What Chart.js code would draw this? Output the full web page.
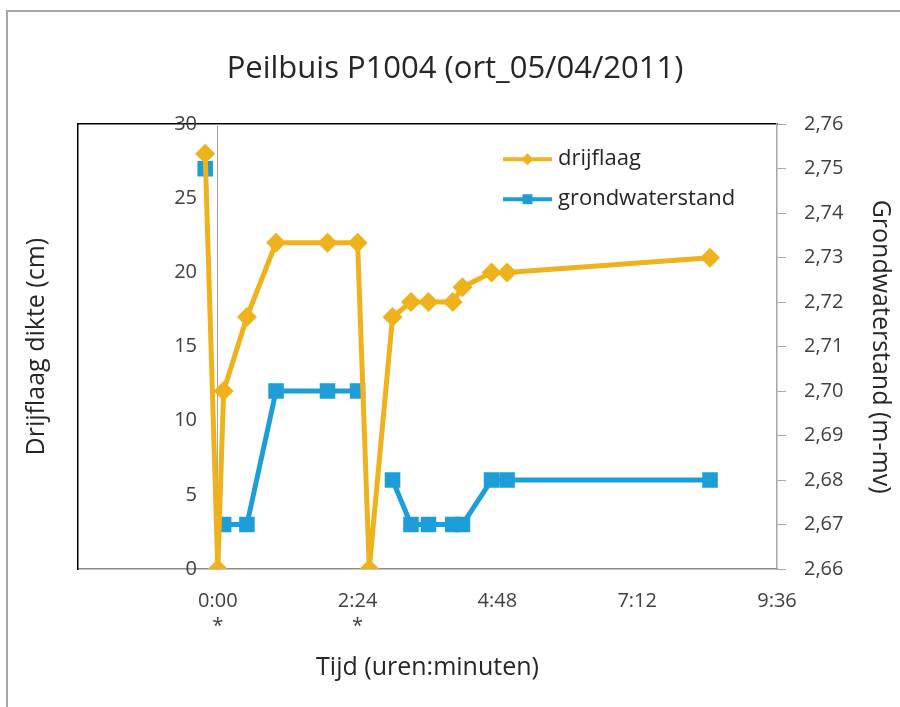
<!DOCTYPE html>
<html>
<head>
<meta charset="utf-8">
<script src="https://cdn.jsdelivr.net/npm/chart.js@4.4.0/dist/chart.umd.min.js"></script>
<style>
  html, body { margin: 0; padding: 0; background: #fff; overflow: hidden; }
  #wrap { position: relative; width: 900px; height: 707px; }
  #frame { position: absolute; left: 6px; top: 10px; width: 900px; height: 700px;
           border-left: 2px solid #a6a6a6; border-top: 2px solid #a6a6a6; pointer-events: none; }
</style>
</head>
<body>
<div id="wrap">
  <canvas id="myChart" width="900" height="707"></canvas>
  <div id="frame"></div>
</div>
<script>
// time in minutes after the first measurement (0:00)
var times = [-13, 0, 6, 30, 60, 113, 144, 156, 180, 199, 217, 242, 252, 282, 298, 507];
// drijflaag dikte (cm)
var drijfValues = [28, 0, 12, 17, 22, 22, 22, 0, 17, 18, 18, 18, 19, 20, 20, 21];
// grondwaterstand (m-mv), empty where no reading was taken (gap in the line)
var grondValues = [2.75, null, 2.67, 2.67, 2.70, 2.70, 2.70, null, 2.68, 2.67, 2.67, 2.67, 2.67, 2.68, 2.68, 2.68];

// x ticks every 2:24 (144 min), the first one (-2:24) stays empty like excel does
var xTickValues = [-144, 0, 144, 288, 432, 576];
var starredTicks = [0, 144];

var orange = '#F0B21C';
var blue = '#1E9ED8';
var textColor = '#404040';
var fontFamily = '"Open Sans", Lato, sans-serif';

function toPoints(xs, ys) {
  return xs.map(function(x, i) { return { x: x, y: ys[i] }; });
}

function hhmm(v) {
  var h = Math.floor(v / 60);
  var m = Math.round(v - h * 60);
  return h + ':' + (m < 10 ? '0' + m : m);
}

// legend drawn inside the plot area, top right
var legendInPlot = {
  id: 'legendInPlot',
  afterDraw: function(chart) {
    var ctx = chart.ctx;
    var area = chart.chartArea;
    chart.data.datasets.forEach(function(ds, i) {
      var y = area.top + 35 + i * 40;
      var x0 = area.right - 274;
      var x1 = area.right - 225;
      var xm = (x0 + x1) / 2;
      ctx.save();
      ctx.strokeStyle = ds.borderColor;
      ctx.lineWidth = 4;
      ctx.beginPath();
      ctx.moveTo(x0, y);
      ctx.lineTo(x1, y);
      ctx.stroke();
      ctx.fillStyle = ds.pointBackgroundColor;
      ctx.beginPath();
      if (ds.pointStyle === 'rectRot') {
        ctx.moveTo(xm, y - 6); ctx.lineTo(xm + 6, y); ctx.lineTo(xm, y + 6); ctx.lineTo(xm - 6, y);
      } else {
        ctx.rect(xm - 5, y - 5, 10, 10);
      }
      ctx.fill();
      ctx.fillStyle = '#262626';
      ctx.font = '22px ' + fontFamily;
      ctx.textBaseline = 'middle';
      ctx.fillText(ds.label, x1 + 6, y);
      ctx.restore();
    });
  }
};

var data = {
  datasets: [
    {
      label: 'drijflaag',
      data: toPoints(times, drijfValues),
      yAxisID: 'y',
      showLine: true,
      borderColor: orange,
      backgroundColor: orange,
      pointBackgroundColor: orange,
      pointBorderColor: orange,
      borderWidth: 5,
      pointStyle: 'rectRot',
      pointRadius: 10,
      pointBorderWidth: 0
    },
    {
      label: 'grondwaterstand',
      data: toPoints(times, grondValues),
      yAxisID: 'y2',
      showLine: true,
      spanGaps: false,
      borderColor: blue,
      backgroundColor: blue,
      pointBackgroundColor: blue,
      pointBorderColor: blue,
      borderWidth: 5,
      pointStyle: 'rect',
      pointRadius: 11,
      pointBorderWidth: 0
    }
  ]
};

var options = {
  responsive: false,
  animation: false,
  layout: { padding: { left: 10, right: 0, top: 0, bottom: 0 } },
  plugins: {
    legend: { display: false },
    tooltip: { enabled: false },
    title: {
      display: true,
      text: 'Peilbuis P1004 (ort_05/04/2011)',
      color: '#262626',
      font: { family: fontFamily, size: 31, weight: 'normal', lineHeight: 1.2 },
      padding: { top: 51, bottom: 36 }
    }
  },
  scales: {
    x: {
      type: 'linear',
      position: 'bottom',
      min: -144,
      max: 576,
      afterBuildTicks: function(scale) {
        scale.ticks = xTickValues.map(function(v) { return { value: v }; });
      },
      afterFit: function(scale) { scale.height = 138; },
      grid: { display: false, drawTicks: false },
      border: { color: '#8c8c8c', width: 1.5 },
      ticks: {
        color: textColor,
        padding: 20,
        maxRotation: 0,
        autoSkip: false,
        font: { family: fontFamily, size: 20, lineHeight: 1.25 },
        callback: function(v) {
          if (v < 0) return '';
          if (starredTicks.indexOf(v) >= 0) return [hhmm(v), '*'];
          return hhmm(v);
        }
      },
      title: {
        display: true,
        text: 'Tijd (uren:minuten)',
        color: '#262626',
        font: { family: fontFamily, size: 25, lineHeight: 1.2 },
        padding: { top: 10, bottom: 24 }
      }
    },
    xTop: {
      type: 'linear',
      position: 'top',
      display: true,
      grid: { display: false, drawTicks: false },
      border: { color: '#000', width: 1.5 },
      ticks: { display: false }
    },
    yTitle: {
      type: 'linear',
      position: 'left',
      display: true,
      afterFit: function(scale) { scale.width = 68; },
      grid: { display: false, drawTicks: false },
      border: { color: '#000', width: 1.5 },
      ticks: { display: false },
      title: {
        display: true,
        text: 'Drijflaag dikte (cm)',
        color: '#262626',
        font: { family: fontFamily, size: 25, lineHeight: 1.2 },
        padding: { top: 12, bottom: 0 }
      }
    },
    y: {
      type: 'linear',
      position: { x: 0 },
      min: 0,
      max: 30,
      grid: { display: false, drawTicks: false },
      border: { color: '#a6a6a6', width: 1 },
      ticks: {
        stepSize: 5,
        color: textColor,
        font: { family: fontFamily, size: 20 },
        // the labels sit left of the axis line at 0:00, keep a gap
        callback: function(v) { return v + '    '; }
      }
    },
    y2: {
      type: 'linear',
      position: 'right',
      min: 2.66,
      max: 2.76,
      afterFit: function(scale) { scale.width = 123; },
      grid: { display: true, drawOnChartArea: false, drawTicks: true, tickLength: 9, color: '#a6a6a6' },
      border: { color: '#a6a6a6', width: 1.5 },
      ticks: {
        stepSize: 0.01,
        color: textColor,
        padding: 18,
        font: { family: fontFamily, size: 20 },
        callback: function(v) { return v.toFixed(2).replace('.', ','); }
      },
      title: {
        display: true,
        text: 'Grondwaterstand (m-mv)',
        color: '#262626',
        font: { family: fontFamily, size: 25, lineHeight: 1.2 },
        padding: { top: 5, bottom: 0 }
      }
    }
  }
};

document.addEventListener("DOMContentLoaded", function(event) {
  var ctx = document.getElementById('myChart').getContext('2d');
  var myChart = new Chart(ctx, {
    type: 'scatter',
    data: data,
    options: options,
    plugins: [legendInPlot]
  });
});
</script>
</body>
</html>
